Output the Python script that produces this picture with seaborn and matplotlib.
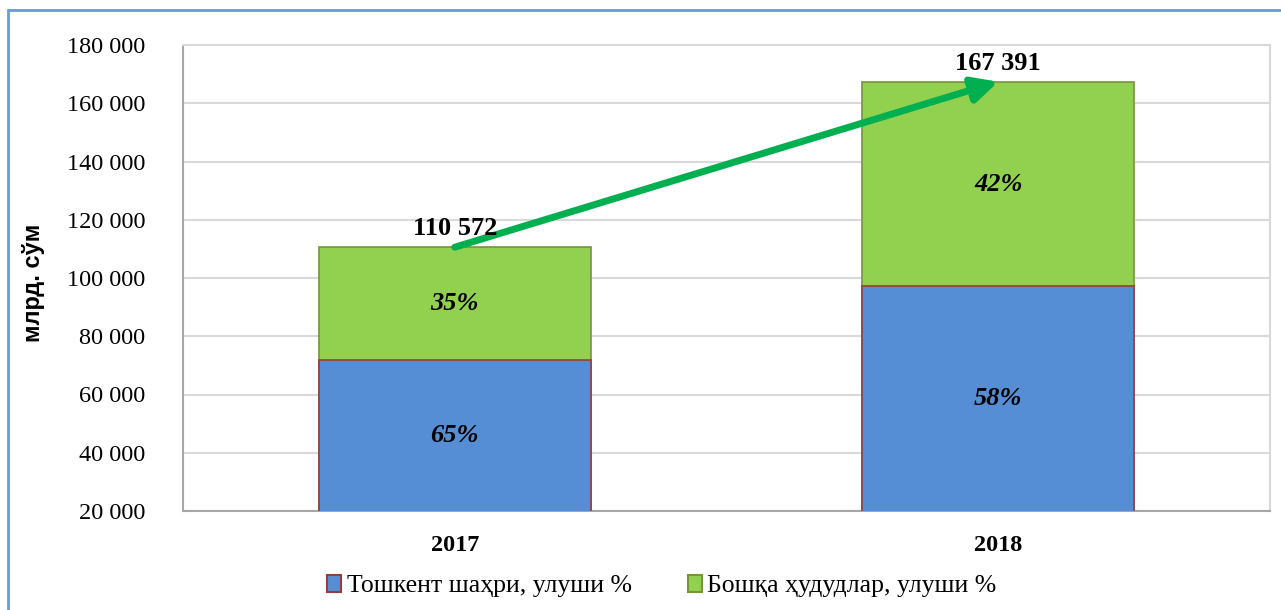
import matplotlib
matplotlib.use("Agg")
import matplotlib.pyplot as plt
import matplotlib.ticker as mticker
from matplotlib.patches import Patch, Rectangle
import seaborn as sns
import pandas as pd

# data
years = ["2017", "2018"]
tashkent = [71872, 97087]
totals = [110572, 167391]
share_tashkent = ["65%", "58%"]
share_other = ["35%", "42%"]
legend_labels = ["Тошкент шаҳри, улуши %", "Бошқа ҳудудлар, улуши %"]

blue = "#558ED5"
green = "#92D050"
arrow_green = "#00B050"

sns.set_style("white")
plt.rcParams["font.family"] = ["Liberation Serif", "DejaVu Serif"]
plt.rcParams["text.color"] = "black"
plt.rcParams["xtick.color"] = "black"
plt.rcParams["ytick.color"] = "black"
plt.rcParams["axes.labelcolor"] = "black"

df = pd.DataFrame({"year": years, "tashkent": tashkent, "total": totals})

fig = plt.figure(figsize=(12.81, 6.10), dpi=100)
ax = fig.add_axes([183 / 1281, 1 - 511 / 610, (1270 - 183) / 1281, (511 - 45) / 610])

# green = full bar, blue overlaid from the bottom
sns.barplot(data=df, x="year", y="total", color=green, width=0.5,
            edgecolor="#77933C", linewidth=1.2, saturation=1, ax=ax, zorder=2)
sns.barplot(data=df, x="year", y="tashkent", color=blue, width=0.5,
            edgecolor="#9C3B3B", linewidth=1.2, saturation=1, ax=ax, zorder=3)

ymin, ymax = 20000, 180000
ax.set_ylim(ymin, ymax)
ax.set_xlim(-0.5, 1.5)
ax.yaxis.set_major_locator(mticker.MultipleLocator(20000))
ax.yaxis.set_major_formatter(mticker.FuncFormatter(lambda v, p: f"{v:,.0f}".replace(",", " ")))
ax.grid(axis="y", color="#D9D9D9", lw=1.5, zorder=0)
ax.set_axisbelow(True)

for s in ["top", "right"]:
    ax.spines[s].set_color("#D9D9D9")
    ax.spines[s].set_linewidth(1.5)
for s in ["left", "bottom"]:
    ax.spines[s].set_color("#A6A6A6")
    ax.spines[s].set_linewidth(1.5)

ax.tick_params(axis="y", length=7, width=1.5, color="#A6A6A6", labelsize=17.5,
               labelcolor="black", pad=20)
ax.tick_params(axis="x", which="major", length=0, labelsize=17.5, labelcolor="black", pad=17)
ax.set_xticks([-0.5, 0.5, 1.5], minor=True)
ax.tick_params(axis="x", which="minor", length=7, width=1.5, color="#A6A6A6")
for lbl in ax.get_xticklabels():
    lbl.set_fontweight("bold")
ax.set_xlabel("")
ax.set_ylabel("млрд. сўм", family=["Liberation Sans", "DejaVu Sans"], fontsize=17,
              fontweight="bold", color="black")
ax.yaxis.set_label_coords(-0.127, 0.49)

# labels
for i in range(len(years)):
    ax.annotate(f"{totals[i]:,}".replace(",", " "), (i, totals[i]), xytext=(0, 5),
                textcoords="offset points", ha="center", va="bottom",
                fontsize=19, fontweight="bold", color="black", zorder=6)
    ax.text(i, (ymin + tashkent[i]) / 2, share_tashkent[i], ha="center", va="center",
            fontsize=19, fontweight="bold", style="italic", color="black", zorder=6)
    ax.text(i, (tashkent[i] + totals[i]) / 2, share_other[i], ha="center", va="center",
            fontsize=19, fontweight="bold", style="italic", color="black", zorder=6)

# growth arrow
ax.annotate("", xy=(1.0, totals[1]), xytext=(0, totals[0]),
            arrowprops=dict(arrowstyle="-|>", color=arrow_green, lw=5,
                            mutation_scale=38, shrinkA=0, shrinkB=0,
                            capstyle="round"), zorder=5)

handles = [Patch(facecolor=blue, edgecolor="#9C3B3B", lw=1.5),
           Patch(facecolor=green, edgecolor="#77933C", lw=1.5)]
fig.legend(handles, legend_labels, loc="center", bbox_to_anchor=(662 / 1281, 1 - 586 / 610),
           ncol=2, frameon=False, fontsize=18.5, handlelength=0.55, handleheight=0.65,
           handletextpad=0.2, columnspacing=2.2)

# chart-area border
fig.patches.append(Rectangle((8 / 1281, -0.2), 1.2, 1.2 - 10 / 610, transform=fig.transFigure,
                             fill=False, edgecolor="#6A9BD8", lw=2, figure=fig))

fig.savefig("out.png", dpi=100)
